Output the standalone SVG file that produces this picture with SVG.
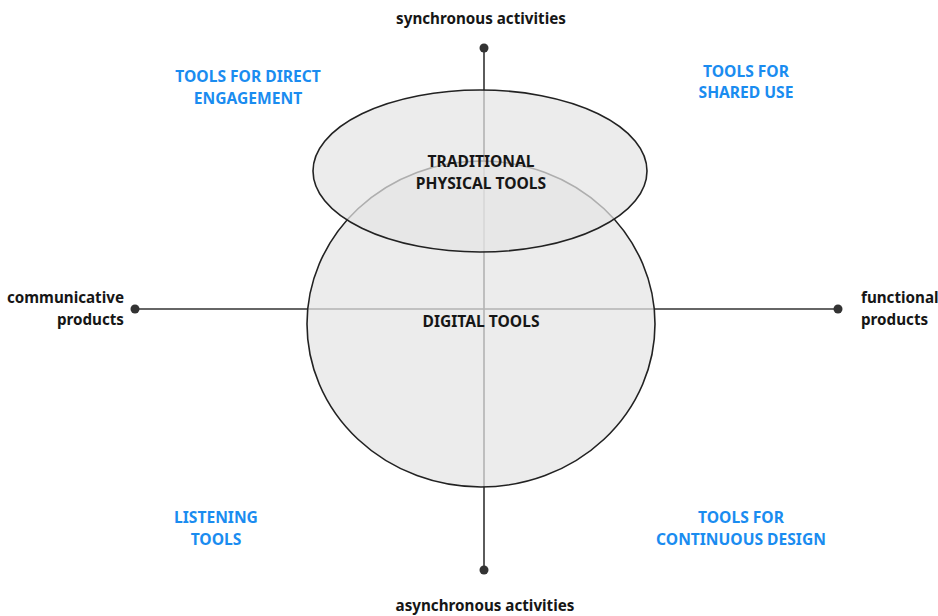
<svg xmlns="http://www.w3.org/2000/svg" width="938" height="616" viewBox="0 0 938 616">
<style>
.ax{stroke:#333;stroke-width:1.6;fill:none}
.dot{fill:#333}
.sh{fill:#e4e4e4;fill-opacity:0.72;stroke:#222;stroke-width:1.6}
.lbl{font-family:"Noto Sans","Liberation Sans",sans-serif;font-weight:700;font-size:15.2px;fill:#161616}
.q{font-family:"Noto Sans","Liberation Sans",sans-serif;font-weight:700;font-size:15.6px;fill:#1a8cf0}
.in{font-family:"Noto Sans","Liberation Sans",sans-serif;font-weight:700;font-size:15.6px;fill:#161616}
</style>
<rect width="938" height="616" fill="#fff"/>
<g id="connectors">
<line class="ax" x1="484" y1="48" x2="484" y2="570"/>
<line class="ax" x1="135" y1="309" x2="838" y2="309"/>
<circle class="dot" cx="484" cy="48" r="4.5"/>
<circle class="dot" cx="484" cy="570" r="4.5"/>
<circle class="dot" cx="135" cy="309" r="4.5"/>
<circle class="dot" cx="838" cy="309" r="4.5"/>
</g>
<g id="digital-tools">
<ellipse class="sh" cx="481" cy="324" rx="174" ry="163"/>
<text class="in" x="481" y="327" text-anchor="middle">DIGITAL TOOLS</text>
</g>
<g id="traditional-tools">
<ellipse class="sh" cx="480" cy="171" rx="167" ry="81"/>
<text class="in" x="481" y="167" text-anchor="middle">TRADITIONAL</text>
<text class="in" x="481" y="189" text-anchor="middle">PHYSICAL TOOLS</text>
</g>
<g id="axis-top"><text class="lbl" x="481" y="24" text-anchor="middle">synchronous activities</text></g>
<g id="axis-bottom"><text class="lbl" x="485" y="611" text-anchor="middle">asynchronous activities</text></g>
<g id="axis-left">
<text class="lbl" x="124" y="303" text-anchor="end">communicative</text>
<text class="lbl" x="124" y="325" text-anchor="end">products</text>
</g>
<g id="axis-right">
<text class="lbl" x="861" y="303">functional</text>
<text class="lbl" x="861" y="325">products</text>
</g>
<g id="q-direct">
<text class="q" x="248" y="82" text-anchor="middle">TOOLS FOR DIRECT</text>
<text class="q" x="248" y="104" text-anchor="middle">ENGAGEMENT</text>
</g>
<g id="q-shared">
<text class="q" x="746" y="77" text-anchor="middle">TOOLS FOR</text>
<text class="q" x="746" y="98" text-anchor="middle">SHARED USE</text>
</g>
<g id="q-listening">
<text class="q" x="216" y="523" text-anchor="middle">LISTENING</text>
<text class="q" x="216" y="545" text-anchor="middle">TOOLS</text>
</g>
<g id="q-continuous">
<text class="q" x="741" y="523" text-anchor="middle">TOOLS FOR</text>
<text class="q" x="741" y="545" text-anchor="middle">CONTINUOUS DESIGN</text>
</g>
</svg>
